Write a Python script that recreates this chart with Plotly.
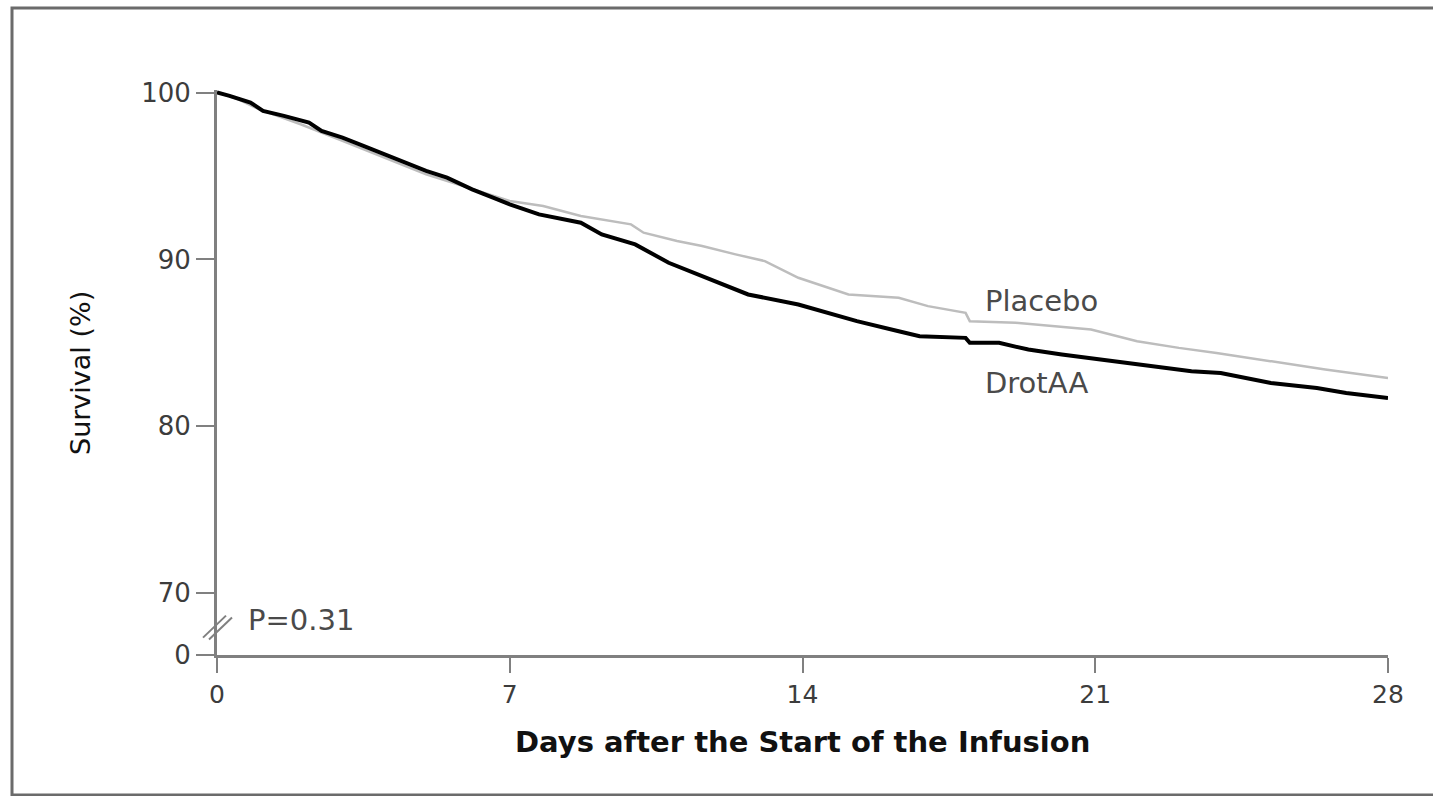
import plotly.graph_objects as go

# Kaplan-Meier style survival estimates (percent) by day after infusion start
drotaa_days = [0, 0.3, 0.8, 1.1, 1.6, 2.2, 2.5, 3.0, 3.5, 4.0, 4.5, 5.0, 5.5, 6.1, 6.6,
               7.0, 7.7, 8.7, 9.2, 10.0, 10.8, 11.5, 12.0, 12.7, 13.9, 14.6, 15.3, 16.3,
               16.8, 17.9, 18.0, 18.7, 19.4, 20.2, 21.1, 22.0, 23.3, 24.0, 25.2, 26.3,
               27.0, 28.0]
drotaa_surv = [100, 99.8, 99.4, 98.9, 98.6, 98.2, 97.7, 97.3, 96.8, 96.3, 95.8, 95.3, 94.9,
               94.2, 93.7, 93.3, 92.7, 92.2, 91.5, 90.9, 89.8, 89.1, 88.6, 87.9, 87.3, 86.8,
               86.3, 85.7, 85.4, 85.3, 85.0, 85.0, 84.6, 84.3, 84.0, 83.7, 83.3, 83.2, 82.6,
               82.3, 82.0, 81.7]

placebo_days = [0, 0.5, 1.0, 2.0, 3.0, 4.0, 5.0, 6.0, 6.5, 7.0, 7.8, 8.7, 9.9, 10.2, 11.0,
                11.6, 12.4, 13.1, 13.9, 14.5, 15.1, 16.3, 17.0, 17.9, 18.0, 19.1, 20.0, 20.9,
                22.0, 23.0, 23.9, 25.5, 26.5, 28.0]
placebo_surv = [100, 99.6, 99.0, 98.1, 97.1, 96.1, 95.1, 94.3, 93.9, 93.5, 93.2, 92.6, 92.1,
                91.6, 91.1, 90.8, 90.3, 89.9, 88.9, 88.4, 87.9, 87.7, 87.2, 86.8, 86.3, 86.2,
                86.0, 85.8, 85.1, 84.7, 84.4, 83.8, 83.4, 82.9]

x_ticks = [0, 7, 14, 21, 28]
y_ticks = [70, 80, 90, 100]
y_tick_text = ["70", "80", "90", "100"]

# The y axis is broken between 0 and 70: the bottom of the axis stands for 0
Y_FLOOR = 66.3
Y_TOP = 100.15
BREAK_Y = 68.0

AXIS_GREY = "#808080"
TEXT_GREY = "#3c3c3c"
LABEL_GREY = "#4a4a4a"
FONT = "DejaVu Sans"

W, H = 1433, 796
L, R, T, B = 217, 45, 90, 141
plot_w = W - L - R
plot_h = H - T - B


def px_to_paper_x(px):
    return (px - L) / plot_w


def px_to_paper_y(py):
    return (H - B - py) / plot_h


def value_to_paper_y(v):
    return (v - Y_FLOOR) / (Y_TOP - Y_FLOOR)


fig = go.Figure()

fig.add_trace(go.Scatter(
    x=placebo_days, y=placebo_surv, mode="lines", name="Placebo",
    line=dict(color="#bdbdbd", width=2.5), showlegend=False,
))
fig.add_trace(go.Scatter(
    x=drotaa_days, y=drotaa_surv, mode="lines", name="DrotAA",
    line=dict(color="#000000", width=4), showlegend=False,
))

fig.update_xaxes(
    range=[0, 28], tickvals=x_ticks, ticktext=[str(v) for v in x_ticks],
    showline=True, linecolor=AXIS_GREY, linewidth=2.5,
    ticks="outside", ticklen=15, tickwidth=2, tickcolor=AXIS_GREY,
    showgrid=False, zeroline=False,
    tickfont=dict(family=FONT, size=25, color=TEXT_GREY),
)
fig.update_yaxes(
    range=[Y_FLOOR, Y_TOP], tickvals=[Y_FLOOR] + y_ticks, ticktext=["0"] + y_tick_text,
    showline=True, linecolor=AXIS_GREY, linewidth=3,
    ticks="outside", ticklen=18, tickwidth=2, tickcolor=AXIS_GREY,
    showgrid=False, zeroline=False,
    tickfont=dict(family=FONT, size=26, color=TEXT_GREY),
)

# Axis-break slashes across the y axis (paper-anchored so they are not clipped)
for dx in (0, 6):
    fig.add_shape(
        type="line", xref="paper", yref="paper",
        xsizemode="pixel", ysizemode="pixel",
        xanchor=0, yanchor=value_to_paper_y(BREAK_Y),
        x0=-14 + dx, x1=9 + dx, y0=-11 - dx * 0.3, y1=11 - dx * 0.3,
        line=dict(color=AXIS_GREY, width=2),
    )

# Outer frame
fig.add_shape(
    type="rect", xref="paper", yref="paper",
    x0=px_to_paper_x(12), x1=px_to_paper_x(1445),
    y0=px_to_paper_y(795), y1=px_to_paper_y(8),
    line=dict(color="#6b6b6b", width=3), fillcolor="rgba(0,0,0,0)", layer="below",
)

annotations = [
    dict(text="Placebo", x=18.32, y=87.5, xref="x", yref="y", xanchor="left",
         yanchor="middle", showarrow=False,
         font=dict(family=FONT, size=29, color=LABEL_GREY)),
    dict(text="DrotAA", x=18.32, y=82.6, xref="x", yref="y", xanchor="left",
         yanchor="middle", showarrow=False,
         font=dict(family=FONT, size=29, color=LABEL_GREY)),
    dict(text="P=0.31", x=0.7, y=BREAK_Y + 0.4, xref="x", yref="y", xanchor="left",
         yanchor="middle", showarrow=False,
         font=dict(family=FONT, size=29, color=LABEL_GREY)),
    dict(text="<b>Days after the Start of the Infusion</b>", x=0.5, y=px_to_paper_y(742),
         xref="paper", yref="paper", xanchor="center", yanchor="middle",
         showarrow=False, font=dict(family=FONT, size=29, color="#111111")),
    dict(text="Survival (%)", x=px_to_paper_x(80), y=px_to_paper_y(373),
         xref="paper", yref="paper", xanchor="center", yanchor="middle",
         textangle=-90, showarrow=False,
         font=dict(family=FONT, size=27, color="#111111")),
]

fig.update_layout(
    width=W, height=H,
    margin=dict(l=L, r=R, t=T, b=B),
    paper_bgcolor="white", plot_bgcolor="white",
    annotations=annotations,
    showlegend=False,
)

fig.write_html("out.html")
